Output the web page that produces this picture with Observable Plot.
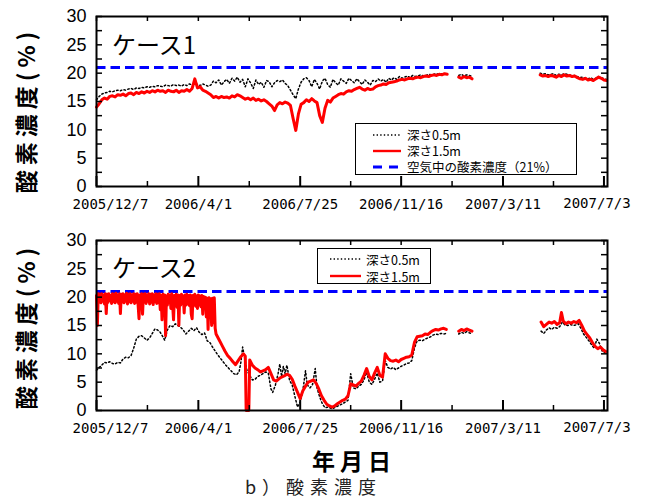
<!DOCTYPE html>
<html><head><meta charset="utf-8">
<script src="https://cdn.jsdelivr.net/npm/d3@7"></script>
<script src="https://cdn.jsdelivr.net/npm/@observablehq/plot@0.6"></script>
<style>
body{margin:0;background:#fff;}
#wrap{position:relative;width:646px;height:499px;overflow:hidden;font-family:"Noto Sans CJK JP",sans-serif;color:#000;}
.abs{position:absolute;white-space:nowrap;}
.ytitle{font-size:23px;font-weight:700;letter-spacing:5px;line-height:1;transform:translate(-50%,-50%) rotate(-90deg);}
.case{font-size:24px;line-height:1;}
.legend{border:1px solid #000;background:#fff;box-sizing:border-box;}
.legend .rows{position:absolute;font-size:12.5px;white-space:pre;}
.legend svg{position:absolute;overflow:visible;}
</style></head>
<body><div id="wrap"></div>
<script>
// ---------- data ----------
const xTickLabels = ["2005/12/7","2006/4/1","2006/7/25","2006/11/16","2007/3/11","2007/7/3"];
const yTickLabels = [0,5,10,15,20,25,30];
const yTickMarks = [0,2.5,5,7.5,10,12.5,15,17.5,20,22.5,25,27.5,30];
const airOxygen = 21;
const seriesNames = ["深さ0.5m","深さ1.5m","空気中の酸素濃度（21%）"];
const caseNames = ["ケース1","ケース2"];
const STEP = 3; // days between readings in case 1 lists

// Case 1, depth 1.5 m (three measured periods, first reading day offsets 0, 409, 501)
const case1DeepA = [14.0,14.6,15.3,15.6,15.4,15.9,16.0,15.8,16.2,16.1,16.3,16.0,16.4,16.5,16.2,16.6,16.4,16.7,16.5,16.8,16.6,16.9,16.7,17.0,16.8,16.9,16.6,17.0,16.8,16.7,17.0,16.6,16.9,16.8,17.1,16.8,17.3,19.0,17.4,17.6,17.0,16.8,16.5,16.2,15.7,15.9,15.6,15.9,15.7,15.8,15.6,16.0,15.8,16.2,16.0,15.7,15.4,15.6,15.3,15.6,15.2,15.4,15.1,15.3,15.0,14.6,14.2,13.4,14.4,14.8,14.6,14.9,14.7,14.3,12.0,9.9,12.8,14.5,14.8,15.3,15.0,15.5,15.1,14.8,12.5,11.3,13.8,15.2,14.9,15.6,15.9,16.2,16.4,16.3,16.7,16.9,16.8,17.1,17.3,17.5,17.2,17.0,17.3,17.1,17.2,17.6,17.8,17.9,18.1,18.0,18.3,18.4,18.5,18.6,18.8,18.9,18.8,19.0,19.1,19.0,19.2,19.3,19.2,19.4,19.5,19.4,19.6,19.7,19.6,19.8,19.7,19.9,19.8];
const case1DeepB = [19.3,19.1,19.4,19.2,19.3,19.0];
const case1DeepC = [19.7,19.5,19.6,19.4,19.6,19.5,19.3,19.6,19.4,19.7,19.5,19.6,19.4,19.5,19.2,19.0,18.9,19.1,18.8,18.9,18.7,19.0,19.3,19.1,18.8,18.7];
// Case 1, depth 0.5 m
const case1ShallowA = [15.3,15.9,16.3,16.5,16.6,16.8,16.7,16.9,17.0,16.9,17.1,17.0,17.2,17.3,17.1,17.4,17.3,17.5,17.4,17.6,17.5,17.7,17.6,17.8,17.7,17.6,17.9,17.8,17.7,18.0,17.8,17.9,17.7,18.0,17.8,18.1,17.9,18.2,18.0,17.8,18.1,17.9,17.7,17.9,18.6,18.3,18.8,17.9,18.5,18.9,18.2,19.1,18.6,19.3,18.4,18.9,17.6,19.0,18.3,17.3,18.8,18.0,18.4,17.5,18.7,18.5,17.6,18.3,18.7,18.5,18.8,18.2,17.8,17.0,16.2,15.5,17.2,18.4,19.0,19.2,18.7,17.6,18.9,18.2,17.2,18.6,19.1,18.0,17.5,18.9,18.3,17.9,19.0,18.6,18.2,19.1,18.7,18.3,19.0,18.5,18.0,18.8,18.4,17.9,18.7,18.5,19.0,18.6,18.9,18.4,19.1,18.8,19.2,18.9,19.4,19.1,19.3,19.5,19.2,19.6,19.4,19.5,19.7,19.5,19.6,19.8,19.7,19.8,19.9,19.8,19.9];
const case1ShallowB = [19.6,19.8,19.5,19.7,19.6,19.4];
const case1ShallowC = [20.0,19.8,19.9,19.7,19.8,19.9,19.6,19.8,19.7,19.9,19.8,19.7,19.5,19.6,19.4,19.2,19.3,19.1,19.0,19.2,18.9,19.1,19.4,19.2,19.0,18.9];
const case1Starts = [0, 409, 501];

// Case 2, depth 1.5 m: daily readings for the first 136 days (high-frequency band), then [day, %] pairs
const case2DeepDaily = [20.3,15.0,20.6,19.2,20.5,19.0,20.6,19.3,20.4,18.8,20.6,17.1,20.5,19.1,20.6,19.4,20.3,18.9,20.6,19.2,20.5,19.0,20.7,19.3,20.4,18.9,20.6,17.1,20.5,19.2,20.6,19.0,20.4,19.3,20.7,18.8,20.5,19.2,20.6,19.0,20.4,19.3,20.6,18.9,20.5,19.1,20.6,18.6,16.2,20.4,19.0,20.6,17.0,20.5,19.2,20.6,18.9,20.4,19.3,20.6,18.8,20.5,19.1,20.6,18.7,20.4,19.2,20.6,18.9,20.5,19.0,20.6,17.8,20.3,16.0,20.5,18.8,20.4,13.2,20.2,18.6,20.5,19.0,20.4,18.0,20.6,18.5,16.0,20.3,18.8,20.5,18.2,20.4,15.0,20.3,18.6,20.5,18.9,20.2,17.2,20.4,18.6,20.5,18.8,20.3,18.5,20.4,17.0,16.2,20.3,18.7,20.5,18.4,20.2,18.0,20.4,18.6,20.2,18.3,20.3,17.0,20.1,18.2,20.0,16.5,19.8,14.3,19.9,17.5,19.7,15.0,19.8,15.5,19.9,14.5,13.5];
const case2DeepRest = [[139,12.3],[142,11.4],[145,10.5],[148,9.7],[151,9.2],[154,8.6],[157,8.1],[160,8.8],[163,9.5],[166,10.0],[168,9.6],[169,0],[172,0],[173,8.9],[176,8.0],[179,7.5],[182,7.2],[185,6.8],[188,7.0],[191,7.2],[194,7.6],[197,6.5],[200,5.4],[203,5.2],[206,5.6],[209,5.9],[212,6.1],[215,6.4],[218,6.2],[221,5.5],[224,4.3],[227,3.2],[230,2.1],[233,3.5],[236,4.3],[239,5.0],[242,5.2],[245,5.4],[248,4.8],[251,3.8],[254,2.6],[257,1.8],[260,1.1],[263,0.8],[266,0.6],[269,0.8],[272,1.2],[275,1.5],[278,1.8],[281,2.0],[284,2.6],[287,4.7],[290,4.5],[293,4.3],[296,4.8],[299,5.2],[302,6.2],[305,7.4],[308,6.0],[311,5.4],[314,6.6],[317,7.6],[320,6.2],[323,5.9],[326,10.0],[329,9.2],[332,8.8],[335,8.7],[338,8.9],[341,8.6],[344,9.0],[347,9.2],[350,9.4],[353,9.5],[356,9.8],[359,12.0],[362,13.0],[365,13.1],[368,13.2],[371,13.5],[374,13.4],[377,13.8],[380,14.1],[383,14.3],[386,14.2],[389,14.4],[392,14.5],[395,14.3],[397,NaN],[409,14.0],[412,14.3],[415,14.1],[418,14.4],[421,14.2],[424,14.0],[425,NaN],[502,15.6],[505,14.8],[508,15.2],[511,15.6],[514,15.4],[517,15.7],[520,15.2],[523,15.5],[525,17.3],[527,15.8],[530,15.3],[533,15.6],[536,15.4],[539,15.7],[542,15.5],[545,15.9],[548,15.0],[551,14.0],[554,13.4],[557,12.8],[560,12.0],[563,11.3],[566,10.9],[569,11.2],[572,10.7],[575,10.4]];
// Case 2, depth 0.5 m: [day offset from 2005/12/7, %]; NaN marks a gap in the record
const case2Shallow = [[0,7.1],[3,7.6],[6,8.0],[9,8.5],[12,8.4],[15,8.6],[18,8.3],[21,8.2],[24,8.5],[27,8.4],[30,9.1],[33,9.4],[36,9.3],[39,9.7],[42,11.0],[45,12.6],[48,13.1],[51,13.2],[54,12.8],[57,12.4],[60,12.8],[63,13.6],[66,14.4],[69,14.2],[72,13.8],[75,13.0],[77,12.4],[80,14.2],[83,15.0],[86,14.8],[89,15.3],[92,15.0],[95,14.7],[98,14.2],[101,13.5],[104,14.0],[107,14.5],[110,14.1],[113,14.6],[116,13.8],[119,13.4],[122,13.7],[125,12.3],[128,12.0],[131,11.2],[134,10.5],[137,9.8],[140,9.2],[143,8.6],[146,8.0],[149,7.5],[152,7.0],[155,6.5],[158,6.3],[161,6.8],[163,8.5],[165,11.2],[167,9.5],[170,7.0],[173,6.2],[176,5.4],[179,5.5],[182,6.0],[185,6.2],[188,6.5],[191,6.8],[194,6.6],[197,3.8],[199,3.2],[202,4.5],[205,6.5],[207,8.2],[209,6.0],[211,7.8],[213,6.5],[215,8.0],[218,5.3],[221,4.5],[224,2.5],[227,0.6],[230,1.5],[233,3.5],[236,7.0],[238,4.5],[241,4.0],[244,4.6],[247,7.4],[249,4.0],[252,2.4],[255,1.2],[258,0.5],[262,0.6],[266,0.3],[270,0.6],[274,0.9],[278,1.2],[281,1.5],[284,1.8],[287,6.5],[290,4.0],[293,3.8],[296,4.3],[299,4.6],[302,5.4],[305,6.8],[308,5.0],[311,4.6],[314,5.5],[317,6.6],[320,5.0],[323,5.2],[326,8.8],[329,7.6],[332,7.3],[335,7.6],[338,7.2],[341,7.5],[344,7.8],[347,8.0],[350,8.3],[353,8.4],[356,8.8],[359,11.0],[362,12.3],[365,12.4],[368,12.3],[371,12.6],[374,12.8],[377,13.0],[380,13.3],[383,13.5],[386,13.4],[389,13.6],[392,13.5],[395,13.6],[397,NaN],[409,13.5],[412,13.8],[415,13.6],[418,13.9],[421,13.7],[424,13.5],[425,NaN],[502,14.0],[505,13.6],[508,14.2],[511,14.6],[514,14.3],[517,14.7],[520,14.5],[523,14.8],[526,15.6],[529,15.1],[532,15.0],[535,15.2],[538,15.0],[541,15.1],[544,15.3],[547,14.5],[550,13.5],[553,12.9],[556,12.3],[559,11.6],[562,11.0],[565,12.6],[568,11.8],[571,10.5],[574,10.2]];

// ---------- helpers ----------
const parseDate = d3.utcParse("%Y/%m/%d");
const startDate = parseDate("2005/12/7");
const endDate = parseDate("2007/7/7");
const toDate = d => new Date(+startDate + d * 864e5);
function stepSegments(starts, lists, step) {
  const out = [];
  lists.forEach((vals, k) => {
    if (k > 0) out.push([starts[k] - 1, NaN]);
    vals.forEach((v, i) => out.push([starts[k] + i * step, v]));
  });
  return out;
}
const rows = pairs => pairs.map(([d, v]) => ({date: toDate(d), value: v}));

const majors = xTickLabels.map(parseDate);
const minors = majors.slice(0, -1).map((d, i) => new Date((+d + +majors[i + 1]) / 2));

function panel(shallow, deep) {
  const tickFont = {fontFamily: "DejaVu Sans Mono", fontSize: 14, fill: "#000"};
  const last = xTickLabels.length - 1;
  return Plot.plot({
    width: 646, height: 220,
    marginTop: 16, marginRight: 39, marginBottom: 34, marginLeft: 96,
    x: {type: "utc", domain: [startDate, endDate], axis: null},
    y: {domain: [0, 30], axis: null},
    style: {background: "transparent", overflow: "visible"},
    marks: [
      Plot.ruleY([airOxygen], {stroke: "#0000ff", strokeWidth: 3, strokeDasharray: "9.5,5"}),
      Plot.line(rows(shallow), {x: "date", y: "value", stroke: "#000", strokeWidth: 1.5, strokeDasharray: "1.5,2.4"}),
      Plot.line(rows(deep), {x: "date", y: "value", stroke: "#ff0000", strokeWidth: 3}),
      Plot.tickY(yTickMarks, {y: d => d, insetRight: 505, stroke: "#000", strokeWidth: 1.5}),
      Plot.tickY(yTickMarks, {y: d => d, insetLeft: 505, stroke: "#000", strokeWidth: 1.5}),
      Plot.tickX(majors, {x: d => d, insetTop: 160, stroke: "#000", strokeWidth: 2}),
      Plot.tickX(minors, {x: d => d, insetTop: 165, stroke: "#000", strokeWidth: 1.5}),
      Plot.tickX(majors.concat(minors), {x: d => d, insetBottom: 165, stroke: "#000", strokeWidth: 1.5}),
      Plot.text(yTickLabels, {y: d => d, text: d => String(d), frameAnchor: "left", dx: -10, textAnchor: "end",
        fontFamily: "Liberation Sans", fontSize: 18, fill: "#000"}),
      Plot.text(xTickLabels.slice(1, last), {x: d => parseDate(d), text: d => d, frameAnchor: "bottom", dy: 22, ...tickFont}),
      Plot.text(xTickLabels.slice(0, 1), {x: d => parseDate(d), text: d => d, frameAnchor: "bottom", dy: 22, dx: 14, ...tickFont}),
      Plot.text(xTickLabels.slice(last), {x: d => parseDate(d), text: d => d, frameAnchor: "bottom", dy: 21, dx: -7, ...tickFont}),
      Plot.frame({stroke: "#000", strokeWidth: 2})
    ]
  });
}

const wrap = document.getElementById("wrap");
function place(el, css) { Object.assign(el.style, css); el.classList.add("abs"); wrap.appendChild(el); return el; }

const case2Deep = stepSegments([0], [case2DeepDaily], 1).concat(case2DeepRest);
const p1 = panel(stepSegments(case1Starts, [case1ShallowA, case1ShallowB, case1ShallowC], STEP),
                 stepSegments(case1Starts, [case1DeepA, case1DeepB, case1DeepC], STEP));
const p2 = panel(case2Shallow, case2Deep);
place(p1, {left: "0px", top: "0px"});
place(p2, {left: "0px", top: "224px"});

function div(cls, text) { const d = document.createElement("div"); if (cls) d.className = cls; d.textContent = text; return d; }

// y-axis titles
place(div("ytitle", "酸素濃度(%)"), {left: "25px", top: "110px"});
place(div("ytitle", "酸素濃度(%)"), {left: "25px", top: "326px"});
// case labels
place(div("case", caseNames[0]), {left: "112px", top: "32px"});
place(div("case", caseNames[1]), {left: "112px", top: "255px"});

// legends: one text block per legend, one line per series
function sample(kind, x1, x2) {
  const ns = "http://www.w3.org/2000/svg";
  const s = document.createElementNS(ns, "svg");
  s.setAttribute("width", x2 - x1); s.setAttribute("height", 4);
  const l = document.createElementNS(ns, "line");
  l.setAttribute("x1", 0); l.setAttribute("x2", x2 - x1); l.setAttribute("y1", 2); l.setAttribute("y2", 2);
  if (kind === 0) { l.setAttribute("stroke", "#000"); l.setAttribute("stroke-width", 1.4); l.setAttribute("stroke-dasharray", "1.4,2.2"); }
  if (kind === 1) { l.setAttribute("stroke", "#ff0000"); l.setAttribute("stroke-width", 2.4); }
  if (kind === 2) { l.setAttribute("stroke", "#0000ff"); l.setAttribute("stroke-width", 3); l.setAttribute("stroke-dasharray", "9,7"); }
  s.appendChild(l);
  s.style.left = x1 + "px";
  return s;
}
function legend(box, n, firstRow, rowGap, sx1, sx2, tx) {
  const L = document.createElement("div");
  L.className = "legend";
  for (let i = 0; i < n; i++) {
    const s = sample(i, sx1, sx2); s.style.top = (firstRow + i * rowGap - 2) + "px"; L.appendChild(s);
  }
  const t = div("rows", seriesNames.slice(0, n).join("\n"));
  t.style.left = tx + "px";
  t.style.lineHeight = rowGap + "px";
  t.style.top = (firstRow - rowGap / 2) + "px";
  L.appendChild(t);
  place(L, box);
}
legend({left: "355px", top: "123px", width: "222px", height: "52px"}, 3, 11, 16, 17, 45, 51);
legend({left: "317px", top: "248px", width: "114px", height: "36px"}, 2, 10, 17, 12, 43, 48);

// x-axis title and caption
place(div("", "年月日"), {left: "354px", top: "460px", transform: "translate(-50%,-50%)", fontSize: "23px", fontWeight: "700", letterSpacing: "5px", lineHeight: "1"});
place(div("", "b）酸素濃度"), {left: "245px", top: "477px", fontSize: "18px", letterSpacing: "6px", lineHeight: "1", color: "#222"});
</script>
</body></html>
